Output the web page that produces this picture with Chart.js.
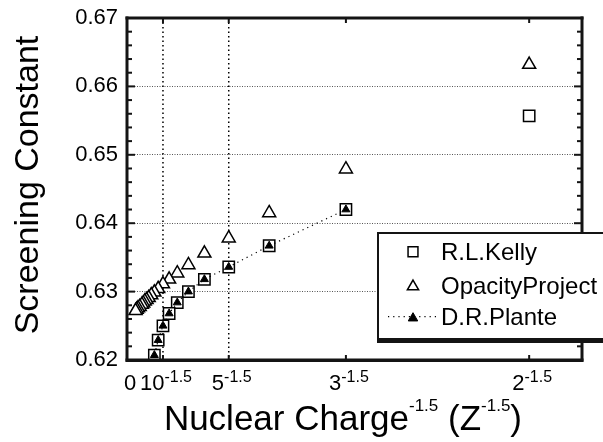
<!DOCTYPE html>
<html>
<head>
<meta charset="utf-8">
<script src="https://cdn.jsdelivr.net/npm/chart.js@4"></script>
<style>
  html, body { margin: 0; padding: 0; background: #fff; }
</style>
</head>
<body>
<canvas id="myChart" width="603" height="442"></canvas>
<script>
// screening constant vs Z^-1.5, three sources
const kellyZ = [2, 3, 4, 5, 6, 7, 8, 9, 10, 11, 12];
const kellySigma = [0.6557, 0.6420, 0.6367, 0.6336, 0.6318, 0.6300, 0.6284, 0.6268, 0.6250, 0.6229, 0.6207];

const opacityZ = [2, 3, 4, 5, 6, 7, 8, 9, 10, 11, 12, 13, 14, 15, 16, 17, 18, 20, 22, 24, 26];
const opacitySigma = [0.6632, 0.6479, 0.6415, 0.6378, 0.6356, 0.6339, 0.6327, 0.6318, 0.6311, 0.6304,
    0.6299, 0.6295, 0.6291, 0.6288, 0.6286, 0.6283, 0.6281, 0.6278, 0.6276, 0.6274, 0.6272];

const planteZ = [3, 4, 5, 6, 7, 8, 9, 10, 11, 12];
const planteSigma = [0.6420, 0.6367, 0.6336, 0.6318, 0.6300, 0.6284, 0.6268, 0.6250, 0.6229, 0.6207];

// x axis ticks are placed at Z^-1.5 for these charges (0 = infinite Z)
const xTickZ = [Infinity, 10, 5, 3, 2];
const xTickBase = ["0", "10", "5", "3", "2"];
const xTickSup = ["", "-1.5", "-1.5", "-1.5", "-1.5"];
const guideZ = [10, 5];
const yTicks = [0.62, 0.63, 0.64, 0.65, 0.66, 0.67];

const FONT = "'Liberation Sans', Arial, Helvetica, sans-serif";
const INK = "#141414";
const zx = z => Math.pow(z, -1.5);
const toPoints = (zs, ys) => zs.map((z, i) => ({ x: zx(z), y: ys[i] }));

function seg(c, x1, y1, x2, y2) {
    c.beginPath();
    c.moveTo(x1, y1);
    c.lineTo(x2, y2);
    c.stroke();
}

// base text with a superscript, centred on cx
function supText(c, base, sup, cx, baseline, baseSize, supSize, rise) {
    c.font = `${baseSize}px ${FONT}`;
    const wb = c.measureText(base).width;
    c.font = `${supSize}px ${FONT}`;
    const ws = sup ? c.measureText(sup).width : 0;
    const left = cx - (wb + ws) / 2;
    c.textAlign = "left";
    c.textBaseline = "alphabetic";
    c.font = `${baseSize}px ${FONT}`;
    c.fillText(base, left, baseline);
    if (sup) {
        c.font = `${supSize}px ${FONT}`;
        c.fillText(sup, left + wb, baseline - rise);
    }
}

// plot box and inward ticks on all four sides
const axisBox = {
    id: "axisBox",
    afterDraw(chart) {
        const c = chart.ctx;
        const a = chart.chartArea;
        const xs = chart.scales.x;
        const ys = chart.scales.y;
        c.save();
        c.fillStyle = INK;
        c.fillRect(a.left - 1.5, a.top - 1.5, a.right - a.left + 3, 3);
        c.fillRect(a.left - 1.5, a.bottom - 1.5, a.right - a.left + 3, 3.5);
        c.fillRect(a.left - 1.5, a.top - 1.5, 3, a.bottom - a.top + 3);
        c.fillRect(a.right - 1.5, a.top - 1.5, 3, a.bottom - a.top + 3);
        for (let i = 0; i <= 25; i++) {
            const py = ys.getPixelForValue(0.62 + i * 0.002);
            const len = i % 5 === 0 ? 8 : 5;
            c.fillRect(a.left, py - 1, len, 2);
            c.fillRect(a.right - len, py - 1, len, 2);
        }
        xTickZ.forEach(z => {
            const px = xs.getPixelForValue(zx(z));
            c.fillRect(px - 1, a.bottom - 5, 2, 5);
            c.fillRect(px - 1, a.top, 2, 5);
        });
        c.restore();
    }
};

const axisText = {
    id: "axisText",
    afterDraw(chart) {
        const c = chart.ctx;
        const a = chart.chartArea;
        const xs = chart.scales.x;
        const ys = chart.scales.y;
        c.save();
        c.fillStyle = "#000";
        c.font = `22px ${FONT}`;
        c.textAlign = "right";
        c.textBaseline = "middle";
        yTicks.forEach(v => c.fillText(v.toFixed(2), 118, ys.getPixelForValue(v)));

        xTickZ.forEach((z, i) => {
            const px = xs.getPixelForValue(zx(z));
            supText(c, xTickBase[i], xTickSup[i], px + 3, 390, 22, 16, 8);
        });

        c.font = `34px ${FONT}`;
        c.textAlign = "center";
        c.textBaseline = "alphabetic";
        c.save();
        c.translate(38, (a.top + a.bottom) / 2 - 4);
        c.rotate(-Math.PI / 2);
        c.fillText("Screening Constant", 0, 0);
        c.restore();

        const parts = [["Nuclear Charge", 35, 0], ["-1.5", 17, 19], [" (Z", 35, 0], ["-1.5", 17, 19], [")", 35, 0]];
        let total = 0;
        parts.forEach(p => { c.font = `${p[1]}px ${FONT}`; total += c.measureText(p[0]).width; });
        let cx = 522 - total;
        c.textAlign = "left";
        parts.forEach(p => {
            c.font = `${p[1]}px ${FONT}`;
            c.fillText(p[0], cx, 430 - p[2]);
            cx += c.measureText(p[0]).width;
        });
        c.restore();
    }
};

const guides = {
    id: "guides",
    beforeDatasetsDraw(chart) {
        const c = chart.ctx;
        const a = chart.chartArea;
        const xs = chart.scales.x;
        c.save();
        c.strokeStyle = "#000";
        c.lineWidth = 1.5;
        c.setLineDash([1.5, 3]);
        guideZ.forEach(z => {
            const px = xs.getPixelForValue(zx(z));
            seg(c, px, a.top, px, a.bottom);
        });
        c.restore();
    }
};

const legendBox = {
    id: "legendBox",
    afterDraw(chart) {
        const c = chart.ctx;
        const box = { left: 378, top: 233, right: 610, bottom: 339 };
        c.save();
        c.fillStyle = "#fff";
        c.fillRect(box.left, box.top, box.right - box.left, box.bottom - box.top);
        c.fillStyle = INK;
        c.fillRect(box.left - 1, box.top - 1, box.right - box.left, 2);
        c.fillRect(box.left - 1, box.top - 1, 2, box.bottom - box.top + 2);
        // heavier bottom edge, like a drop shadow
        c.fillRect(box.left - 1, box.bottom - 1, box.right - box.left, 5);

        const rows = [251.7, 285, 316.7];
        const mx = 413;
        chart.data.datasets.forEach((ds, r) => {
            const ry = rows[r];
            if (ds.showLine) {
                c.strokeStyle = "#000";
                c.lineWidth = 1.2;
                c.setLineDash([1.2, 4]);
                seg(c, 388, ry, 438, ry);
                c.setLineDash([]);
            }
            c.fillStyle = ds.pointBackgroundColor;
            c.strokeStyle = "#000";
            c.lineWidth = ds.pointBorderWidth;
            Chart.helpers.drawPoint(c, {
                pointStyle: ds.pointStyle,
                radius: ds.legendRadius,
                rotation: 0,
                borderWidth: ds.pointBorderWidth
            }, mx, ry + (ds.pointStyle === "triangle" ? 1.5 : 0));
            c.fillStyle = "#000";
            c.font = `24px ${FONT}`;
            c.textAlign = "left";
            c.textBaseline = "alphabetic";
            c.fillText(ds.label, 441, ry + 8.6);
        });
        c.restore();
    }
};

new Chart(document.getElementById("myChart").getContext("2d"), {
    type: "scatter",
    data: {
        datasets: [
            {
                label: "R.L.Kelly",
                data: toPoints(kellyZ, kellySigma),
                showLine: false,
                pointStyle: "rect",
                pointRadius: 8,
                legendRadius: 7,
                pointBorderWidth: 1.5,
                pointBorderColor: "#000",
                pointBackgroundColor: "#fff",
                order: 2
            },
            {
                label: "OpacityProject",
                data: toPoints(opacityZ, opacitySigma),
                showLine: false,
                pointStyle: "triangle",
                pointRadius: 7.5,
                legendRadius: 6.5,
                pointBorderWidth: 1.5,
                pointBorderColor: "#000",
                pointBackgroundColor: "#fff",
                order: 3
            },
            {
                label: "D.R.Plante",
                data: toPoints(planteZ, planteSigma),
                showLine: true,
                borderColor: "#000",
                borderWidth: 1.2,
                borderDash: [1.2, 4],
                pointStyle: "triangle",
                pointRadius: 4.6,
                legendRadius: 5.5,
                pointBorderWidth: 1,
                pointBorderColor: "#000",
                pointBackgroundColor: "#000",
                order: 1
            }
        ]
    },
    options: {
        responsive: false,
        animation: false,
        events: [],
        layout: { padding: { top: 18, right: 21, left: 0, bottom: 0 } },
        plugins: {
            legend: { display: false },
            tooltip: { enabled: false }
        },
        scales: {
            x: {
                type: "linear",
                min: 0,
                max: 0.4,
                ticks: { display: false },
                grid: { display: false, drawTicks: false },
                border: { display: false },
                afterFit: s => { s.height = 82; }
            },
            y: {
                type: "linear",
                min: 0.62,
                max: 0.67,
                ticks: { display: false, stepSize: 0.01 },
                grid: {
                    drawTicks: false,
                    lineWidth: 1,
                    color: c => (c.index === 0 || c.index === yTicks.length - 1) ? "rgba(0,0,0,0)" : "#555"
                },
                border: { display: false, dash: [1, 1.5] },
                afterFit: s => { s.width = 127; }
            }
        }
    },
    plugins: [guides, axisBox, axisText, legendBox]
});
</script>
</body>
</html>
